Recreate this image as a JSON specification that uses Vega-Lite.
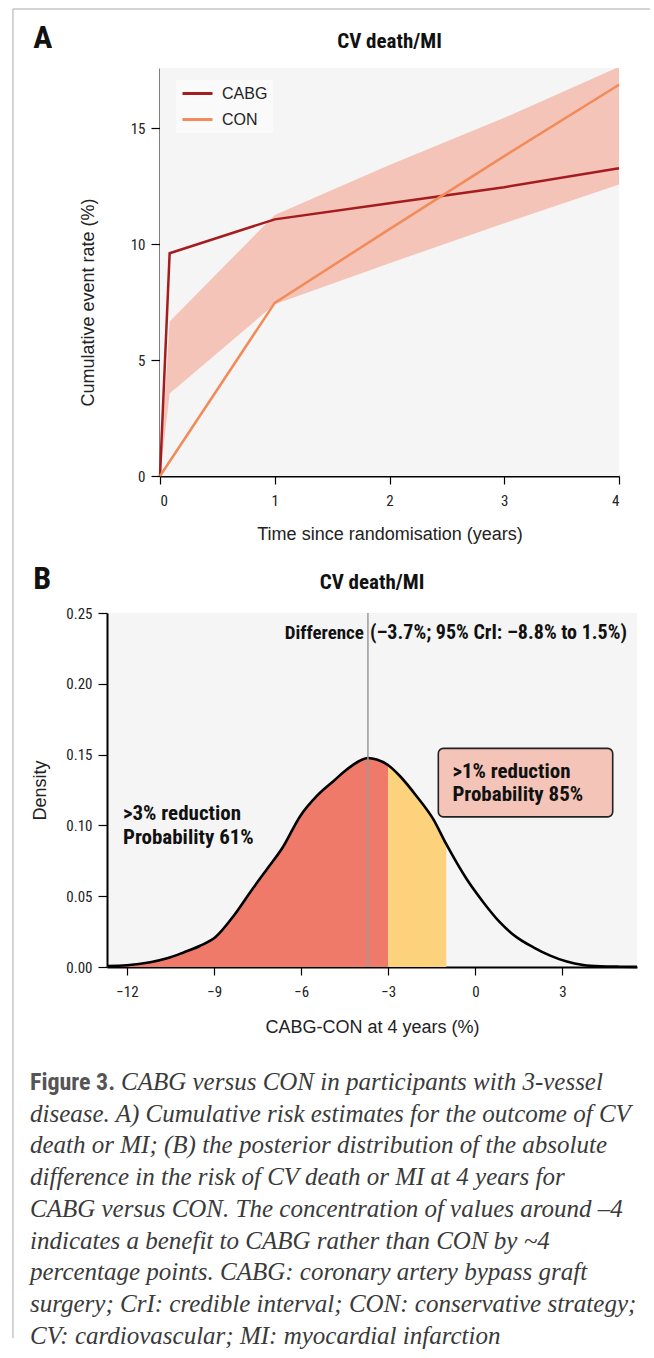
{
  "$schema": "https://vega.github.io/schema/vega-lite/v6.json",
  "background": "white",
  "padding": {"left": 12, "top": 8, "right": 0, "bottom": 0},
  "spacing": 137,
  "bounds": "flush",
  "config": {
    "view": {"fill": "#f5f5f5", "stroke": null},
    "axis": {
      "domainColor": "#000", "domainWidth": 2, "tickColor": "#000", "tickWidth": 1.2, "tickSize": 8,
      "labelFont": "Roboto Condensed", "labelFontSize": 15, "labelColor": "#222", "labelPadding": 9,
      "titleFont": "Liberation Sans", "titleFontSize": 18, "titleFontWeight": "normal", "titleColor": "#222",
      "grid": false
    },
    "axisY": {"tickSize": 9, "labelPadding": 6}
  },
  "datasets": {
    "risk": [
      {"t": 0, "rate": 0, "arm": "CABG"},
      {"t": 0.084, "rate": 9.61, "arm": "CABG"},
      {"t": 1, "rate": 11.07, "arm": "CABG"},
      {"t": 2, "rate": 11.77, "arm": "CABG"},
      {"t": 3, "rate": 12.46, "arm": "CABG"},
      {"t": 4, "rate": 13.28, "arm": "CABG"},
      {"t": 0, "rate": 0, "arm": "CON"},
      {"t": 1, "rate": 7.47, "arm": "CON"},
      {"t": 2, "rate": 10.65, "arm": "CON"},
      {"t": 3, "rate": 13.8, "arm": "CON"},
      {"t": 4, "rate": 16.88, "arm": "CON"}
    ],
    "band": [
      {"t": 0, "lower": 0, "upper": 0},
      {"t": 0.084, "lower": 3.56, "upper": 6.67},
      {"t": 1, "lower": 7.41, "upper": 11.26},
      {"t": 2, "lower": 9.18, "upper": 13.42},
      {"t": 3, "lower": 10.9, "upper": 15.45},
      {"t": 4, "lower": 12.57, "upper": 17.65}
    ],
    "curve": [
      {"diff": -12.69, "dens": 0.0007}, {"diff": -12.0, "dens": 0.0012}, {"diff": -11.2, "dens": 0.0033},
      {"diff": -10.62, "dens": 0.0061}, {"diff": -10.05, "dens": 0.0103}, {"diff": -9.48, "dens": 0.015},
      {"diff": -8.96, "dens": 0.021}, {"diff": -8.33, "dens": 0.036}, {"diff": -7.75, "dens": 0.053},
      {"diff": -7.18, "dens": 0.0691}, {"diff": -6.65, "dens": 0.084}, {"diff": -6.03, "dens": 0.1067},
      {"diff": -5.46, "dens": 0.1208}, {"diff": -4.88, "dens": 0.1314}, {"diff": -4.42, "dens": 0.1396},
      {"diff": -4.0, "dens": 0.1455}, {"diff": -3.7, "dens": 0.1476}, {"diff": -3.4, "dens": 0.1465},
      {"diff": -3.0, "dens": 0.1425}, {"diff": -2.6, "dens": 0.1349}, {"diff": -2.03, "dens": 0.1208},
      {"diff": -1.45, "dens": 0.1044}, {"diff": -1.0, "dens": 0.0867}, {"diff": -0.3, "dens": 0.0621},
      {"diff": 0.28, "dens": 0.0456}, {"diff": 0.85, "dens": 0.0315}, {"diff": 1.43, "dens": 0.0209},
      {"diff": 2.0, "dens": 0.0139}, {"diff": 2.58, "dens": 0.008}, {"diff": 3.15, "dens": 0.0038},
      {"diff": 3.72, "dens": 0.0014}, {"diff": 4.3, "dens": 0.0005}, {"diff": 5.0, "dens": 0.0002},
      {"diff": 5.57, "dens": 0.0001}
    ],
    "caption": [
      {"line": 2, "txt": "disease. A) Cumulative risk estimates for the outcome of CV"},
      {"line": 3, "txt": "death or MI; (B) the posterior distribution of the absolute"},
      {"line": 4, "txt": "difference in the risk of CV death or MI at 4 years for"},
      {"line": 5, "txt": "CABG versus CON. The concentration of values around –4"},
      {"line": 6, "txt": "indicates a benefit to CABG rather than CON by ~4"},
      {"line": 7, "txt": "percentage points. CABG: coronary artery bypass graft"},
      {"line": 8, "txt": "surgery; CrI: credible interval; CON: conservative strategy;"},
      {"line": 9, "txt": "CV: cardiovascular; MI: myocardial infarction"}
    ]
  },
  "vconcat": [
    {
      "width": 512,
      "height": 408,
      "view": {"fill": null, "stroke": null},
      "layer": [
        {
          "data": {"values": [{"panel": "A"}]},
          "mark": {"type": "rect", "fill": "#f5f5f5"},
          "encoding": {
            "x": {"datum": 0, "scale": {"domain": [0, 4], "range": [53, 512], "nice": false},
              "axis": {"values": [0, 1, 2, 3, 4], "format": "d", "title": "Time since randomisation (years)", "titlePadding": 17}},
            "x2": {"datum": 4},
            "y": {"datum": 0, "scale": {"domain": [0, 17.6], "nice": false},
              "axis": {"values": [0, 5, 10, 15], "format": "d", "offset": -53, "title": "Cumulative event rate (%)", "titlePadding": 33, "titleY": 234}},
            "y2": {"datum": 17.6}
          }
        },
        {
          "data": {"values": [{"frame": "left"}]},
          "mark": {"type": "rule", "color": "#c6c6c6", "strokeWidth": 1.5},
          "encoding": {"x": {"datum": -1.2816}, "y": {"datum": 20.15}, "y2": {"datum": -37.2}}
        },
        {
          "data": {"values": [{"frame": "top"}]},
          "mark": {"type": "rule", "color": "#c6c6c6", "strokeWidth": 1.5},
          "encoding": {"x": {"datum": -1.2816}, "x2": {"datum": 4.27}, "y": {"datum": 20.15}}
        },
        {
          "data": {"name": "band"},
          "mark": {"type": "area", "color": "#f4c4b8", "clip": true},
          "encoding": {
            "x": {"field": "t", "type": "quantitative"},
            "y": {"field": "lower", "type": "quantitative"},
            "y2": {"field": "upper"}
          }
        },
        {
          "data": {"name": "risk"},
          "mark": {"type": "line", "strokeWidth": 2.5},
          "encoding": {
            "x": {"field": "t", "type": "quantitative"},
            "y": {"field": "rate", "type": "quantitative"},
            "color": {"field": "arm", "type": "nominal",
              "scale": {"domain": ["CABG", "CON"], "range": ["#a51c1e", "#f28b5a"]},
              "legend": {"title": null, "orient": "none", "legendX": 69, "legendY": 12, "symbolType": "stroke", "symbolSize": 900,
                "symbolStrokeWidth": 3, "labelFont": "Liberation Sans", "labelFontSize": 16, "labelColor": "#222",
                "fillColor": "#fafafa", "padding": 5, "rowPadding": 9, "clipHeight": 17, "labelOffset": 8}}
          }
        },
        {
          "data": {"values": [{"label": "A"}]},
          "mark": {"type": "text", "font": "Roboto Condensed", "fontWeight": "bold", "fontSize": 32, "align": "left", "baseline": "alphabetic", "color": "#111"},
          "encoding": {"x": {"datum": -1.105}, "y": {"datum": 18.45}, "text": {"field": "label"}}
        },
        {
          "data": {"values": [{"label": "CV death/MI"}]},
          "mark": {"type": "text", "font": "Roboto Condensed", "fontWeight": "bold", "fontSize": 21, "align": "center", "baseline": "alphabetic", "color": "#111"},
          "encoding": {"x": {"datum": 2}, "y": {"datum": 18.46}, "text": {"field": "label"}}
        }
      ]
    },
    {
      "width": 530,
      "height": 354,
      "layer": [
        {
          "data": {"name": "curve"},
          "transform": [{"filter": "datum.diff <= -3"}],
          "mark": {"type": "area", "color": "#f07a6a", "interpolate": "monotone"},
          "encoding": {
            "x": {"field": "diff", "type": "quantitative", "scale": {"domain": [-12.69, 5.57], "nice": false, "zero": false},
              "axis": {"values": [-12, -9, -6, -3, 0, 3], "format": "d", "title": "CABG-CON at 4 years (%)", "titlePadding": 19}},
            "y": {"field": "dens", "type": "quantitative", "scale": {"domain": [0, 0.25], "nice": false},
              "axis": {"values": [0, 0.05, 0.1, 0.15, 0.2, 0.25], "format": ".2f", "title": "Density", "titlePadding": 16}}
          }
        },
        {
          "data": {"name": "curve"},
          "transform": [{"filter": "datum.diff >= -3 && datum.diff <= -1"}],
          "mark": {"type": "area", "color": "#fdd27c", "interpolate": "monotone"},
          "encoding": {
            "x": {"field": "diff", "type": "quantitative"},
            "y": {"field": "dens", "type": "quantitative"}
          }
        },
        {
          "data": {"name": "curve"},
          "mark": {"type": "line", "color": "#000", "strokeWidth": 2.6, "interpolate": "monotone"},
          "encoding": {
            "x": {"field": "diff", "type": "quantitative"},
            "y": {"field": "dens", "type": "quantitative"}
          }
        },
        {
          "data": {"values": [{"median": -3.7}]},
          "mark": {"type": "rule", "color": "#9a9a9a", "strokeWidth": 1.5},
          "encoding": {"x": {"field": "median", "type": "quantitative"}, "y": {"datum": 0}, "y2": {"datum": 0.25}}
        },
        {
          "data": {"values": [{"label": "Difference"}]},
          "mark": {"type": "text", "font": "Roboto Condensed", "fontWeight": "bold", "fontSize": 19, "align": "right", "baseline": "alphabetic", "dx": -4, "color": "#111"},
          "encoding": {"x": {"datum": -3.7}, "y": {"datum": 0.2318}, "text": {"field": "label"}}
        },
        {
          "data": {"values": [{"label": "(–3.7%; 95% CrI: –8.8% to 1.5%)"}]},
          "mark": {"type": "text", "font": "Roboto Condensed", "fontWeight": "bold", "fontSize": 20, "align": "left", "baseline": "alphabetic", "dx": 2, "color": "#111"},
          "encoding": {"x": {"datum": -3.7}, "y": {"datum": 0.2318}, "text": {"field": "label"}}
        },
        {
          "data": {"values": [{}]},
          "mark": {"type": "text", "font": "Roboto Condensed", "fontWeight": "bold", "fontSize": 21, "align": "left", "baseline": "alphabetic", "lineHeight": 24, "color": "#111",
            "text": [">3% reduction", "Probability 61%"]},
          "encoding": {"x": {"datum": -12.14}, "y": {"datum": 0.1037}}
        },
        {
          "data": {"values": [{}]},
          "mark": {"type": "rect", "fill": "#f4c4b8", "stroke": "#222", "strokeWidth": 1.6, "cornerRadius": 5},
          "encoding": {"x": {"datum": -1.275}, "x2": {"datum": 4.733}, "y": {"datum": 0.1544}, "y2": {"datum": 0.106}}
        },
        {
          "data": {"values": [{}]},
          "mark": {"type": "text", "font": "Roboto Condensed", "fontWeight": "bold", "fontSize": 21, "align": "left", "baseline": "alphabetic", "lineHeight": 23, "color": "#111",
            "text": [">1% reduction", "Probability 85%"]},
          "encoding": {"x": {"datum": -0.79}, "y": {"datum": 0.1338}}
        },
        {
          "data": {"values": [{"label": "B"}]},
          "mark": {"type": "text", "font": "Roboto Condensed", "fontWeight": "bold", "fontSize": 32, "align": "left", "baseline": "alphabetic", "color": "#111"},
          "encoding": {"x": {"datum": -15.229}, "y": {"datum": 0.2673}, "text": {"field": "label"}}
        },
        {
          "data": {"values": [{"label": "CV death/MI"}]},
          "mark": {"type": "text", "font": "Roboto Condensed", "fontWeight": "bold", "fontSize": 21, "align": "center", "baseline": "alphabetic", "color": "#111"},
          "encoding": {"x": {"datum": -3.56}, "y": {"datum": 0.2673}, "text": {"field": "label"}}
        }
      ]
    },
    {
      "width": 530,
      "height": 230,
      "view": {"fill": null, "stroke": null},
      "layer": [
        {
          "data": {"values": [{"label": "Figure 3."}]},
          "mark": {"type": "text", "font": "Roboto Condensed", "fontWeight": "bold", "fontSize": 24, "align": "left", "baseline": "alphabetic", "color": "#555"},
          "encoding": {
            "x": {"datum": -0.1453, "scale": {"domain": [0, 1]}, "axis": null},
            "y": {"datum": 1, "scale": {"domain": [1.4385, 8.6945], "reverse": true, "nice": false, "zero": false}, "axis": null},
            "text": {"field": "label"}
          }
        },
        {
          "data": {"values": [{"label": "CABG versus CON in participants with 3-vessel"}]},
          "mark": {"type": "text", "font": "Liberation Serif", "fontStyle": "italic", "fontSize": 25, "align": "left", "baseline": "alphabetic", "dx": 91, "color": "#3a3a3a"},
          "encoding": {
            "x": {"datum": -0.1453, "axis": null},
            "y": {"datum": 1, "axis": null},
            "text": {"field": "label"}
          }
        },
        {
          "data": {"name": "caption"},
          "mark": {"type": "text", "font": "Liberation Serif", "fontStyle": "italic", "fontSize": 25, "align": "left", "baseline": "alphabetic", "color": "#3a3a3a"},
          "encoding": {
            "x": {"datum": -0.1453, "axis": null},
            "y": {"field": "line", "type": "quantitative", "axis": null},
            "text": {"field": "txt"}
          }
        }
      ]
    }
  ]
}
